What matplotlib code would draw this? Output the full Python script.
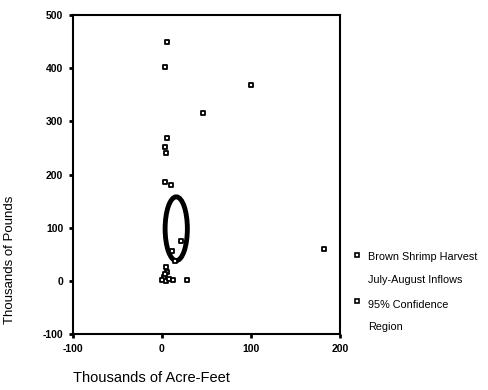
import matplotlib.pyplot as plt
import matplotlib.patches as patches

# inflows (thousands of acre-feet) vs brown shrimp harvest (thousands of pounds)
inflows = [6, 3, 6, 3, 4, 3, 10, 100, 46, 182,
           21, 11, 15, 4, 6, 2, 0, 5, 8, 12, 3, 28]
harvest = [450, 403, 268, 251, 240, 185, 181, 368, 316, 60,
           75, 57, 38, 26, 17, 8, 2, 0, 3, 2, 13, 1]

# 95% confidence region (center and full widths)
ell_center = (16, 98)
ell_width = 25
ell_height = 120

x_ticks = [-100, 0, 100, 200]
y_ticks = [-100, 0, 100, 200, 300, 400, 500]

plt.rcParams['font.family'] = ['Liberation Sans', 'DejaVu Sans']
plt.rcParams['axes.unicode_minus'] = False

fig = plt.figure(figsize=(4.88, 3.9), dpi=100)
ax = fig.add_axes([0.1496, 0.1436, 0.5471, 0.8179])

ax.scatter(inflows, harvest, marker='s', s=10, facecolor='white',
           edgecolor='black', linewidth=1.3, zorder=3)
ax.add_patch(patches.Ellipse(ell_center, ell_width, ell_height, fill=False,
                             edgecolor='black', linewidth=3.5, zorder=2))

ax.set_xlim(-100, 200)
ax.set_ylim(-100, 500)
ax.set_xticks(x_ticks)
ax.set_yticks(y_ticks)
ax.tick_params(direction='out', length=3, width=2, labelsize=7.5, pad=4)
for lab in ax.get_xticklabels() + ax.get_yticklabels():
    lab.set_fontweight('bold')
for s in ax.spines.values():
    s.set_linewidth(1.5)

# legend drawn by hand outside the axes
lx = 357 / 488
for yy in (255, 301):
    fig.add_artist(plt.Line2D([lx], [1 - yy / 390], marker='s', markersize=3.2,
                              markerfacecolor='white', markeredgecolor='black',
                              markeredgewidth=1.2, transform=fig.transFigure))
tx = 368 / 488
fig.text(tx, 1 - 257 / 390, 'Brown Shrimp Harvest', fontsize=7.8, va='center')
fig.text(tx, 1 - 280 / 390, 'July-August Inflows', fontsize=7.8, va='center')
fig.text(tx, 1 - 305 / 390, '95% Confidence', fontsize=7.8, va='center')
fig.text(tx, 1 - 327 / 390, 'Region', fontsize=7.8, va='center')

fig.text(10 / 488, 1 - 260 / 390, 'Thousands of Pounds', rotation=90,
         fontsize=9.5, ha='center', va='center')
fig.text(151 / 488, 1 - 378 / 390, 'Thousands of Acre-Feet',
         fontsize=10.5, ha='center', va='center')

plt.savefig('out.png', dpi=100)
